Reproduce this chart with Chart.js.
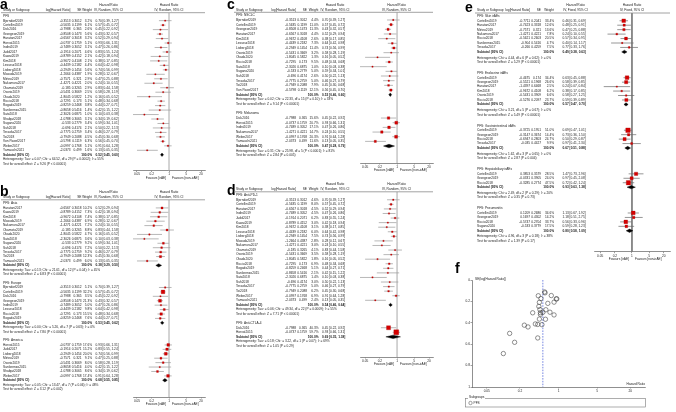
<!DOCTYPE html>
<html>
<head>
<meta charset="utf-8">
<script src="https://cdn.jsdelivr.net/npm/chart.js@4.4.1/dist/chart.umd.min.js"></script>
<style>
  html, body { margin: 0; padding: 0; background: #fff; }
  body { width: 676px; height: 412px; position: relative; overflow: hidden; }
  canvas { position: absolute; }
</style>
</head>
<body>
<script>
const FONT = '"Liberation Sans", Arial, sans-serif';
const FS = 3.2;
const TICKS = [0.05, 0.2, 1, 5, 20];

// ---- PFS study table (as printed in panel a) ----
const studyNames = ['Bjerndorf2019','Cortellini2019','Dick2016','Grangeon2019','Haratani2017','Horvat2015','Indini2019','Judd2017','Kawai2019','Kim2018','Lesueur2018','Lisberg2018','Masuda2019','Mirteo2019','Nakamura2017','Okamoto2019','Osorio2019','Okada2020','Riccio2018','Rogado2019','Sanlorenzo2015','Sato2018','Shafqat2018','Sugano2020','Suh2018','Teraoka2017','Toi2018','Von Pawel2017','Weber2017','Yamauchi2021'];
const logHR = [-0.3513,-0.5635,-0.7988,-0.8508,-0.6567,-0.0737,-0.7489,-0.1914,-0.8789,-0.9672,-0.4439,-0.2949,-1.2664,-0.7571,-1.4271,-0.185,-0.5431,-1.8045,-0.7295,-0.8259,-0.8658,-2.3026,-1.0788,-0.533,-0.696,-0.7775,-0.7949,-0.5798,-0.0997,-2.0373];
const seLogHR = [0.3012,0.1199,0.365,0.1473,0.3018,0.1759,0.3052,0.2071,0.4152,0.4108,0.2182,0.1454,0.4387,0.321,0.4221,0.3265,0.3669,0.5822,0.173,0.2468,0.5416,0.6875,0.3065,0.2779,0.4174,0.2759,0.2088,0.1119,0.1768,0.499];
const hrPoint = [0.70,0.57,0.45,0.43,0.52,0.93,0.47,0.83,0.42,0.38,0.64,0.74,0.28,0.47,0.24,0.83,0.58,0.16,0.48,0.44,0.42,0.10,0.34,0.59,0.50,0.46,0.45,0.56,0.91,0.13];
const hrLow = [0.39,0.45,0.22,0.32,0.29,0.66,0.26,0.55,0.18,0.17,0.42,0.56,0.12,0.25,0.10,0.44,0.28,0.05,0.34,0.27,0.15,0.03,0.19,0.34,0.22,0.27,0.30,0.45,0.64,0.05];
const hrHigh = [1.27,0.72,0.92,0.57,0.94,1.31,0.86,1.24,0.94,0.85,0.98,0.99,0.67,0.88,0.55,1.58,1.19,0.52,0.68,0.71,1.22,0.38,0.62,1.01,1.13,0.79,0.68,0.70,1.28,0.35];

// panel a: all studies
const allWeights = [3.2,6.1,2.6,5.6,3.2,5.1,3.1,4.6,2.1,2.1,4.4,5.6,1.9,2.9,2.0,2.9,2.5,1.2,5.1,3.8,1.4,1.0,3.1,3.4,2.1,3.4,4.5,6.3,5.1,1.6];
const allTotal = [0.52, 0.45, 0.60];

// panel b: by region
const asiaNames = ['Haratani2017','Kawai2019','Kim2018','Masuda2019','Nakamura2017','Okamoto2019','Okada2020','Sato2018','Sugano2020','Suh2018','Teraoka2017','Toi2018','Yamauchi2021'];
const asiaWeights = [10.2,7.3,7.4,6.9,7.2,8.8,4.7,3.6,9.2,7.2,9.2,12.3,6.0];
const asiaTotal = [0.38, 0.29, 0.50];
const europeNames = ['Bjerndorf2019','Cortellini2019','Dick2016','Grangeon2019','Indini2019','Lesueur2018','Riccio2018','Rogado2019'];
const europeWeights = [5.1,32.2,3.5,21.3,5.0,9.8,15.5,7.6];
const europeTotal = [0.53, 0.45, 0.62];
const americaNames = ['Horvat2015','Judd2017','Lisberg2018','Mirteo2019','Osorio2019','Sanlorenzo2015','Shafqat2018','Weber2017'];
const americaWeights = [17.6,15.2,20.0,9.1,8.0,4.0,8.6,17.4];
const americaTotal = [0.68, 0.55, 0.85];

// panel c: by tumour
const nsclcNames = ['Bjerndorf2019','Cortellini2019','Grangeon2019','Haratani2017','Kim2018','Lesueur2018','Lisberg2018','Osorio2019','Okada2020','Riccio2018','Sato2018','Sugano2020','Suh2018','Teraoka2017','Toi2018','Von Pawel2017'];
const nsclcWeights = [4.4,11.0,11.3,4.4,2.6,7.3,11.4,3.2,1.3,9.5,1.0,5.0,2.6,5.0,7.9,12.1];
const nsclcTotal = [0.53, 0.46, 0.60];
const melanomaNames = ['Dick2016','Horvat2015','Indini2019','Nakamura2017','Weber2017','Yamauchi2021'];
const melanomaWeights = [15.6,20.7,17.1,14.7,20.3,11.6];
const melanomaTotal = [0.47, 0.28, 0.79];

// panel d: by drug class
const pd1Names = ['Bjerndorf2019','Cortellini2019','Haratani2017','Indini2019','Judd2017','Kawai2019','Kim2018','Lesueur2018','Lisberg2018','Masuda2019','Nakamura2017','Okamoto2019','Osorio2019','Okada2020','Riccio2018','Rogado2019','Sanlorenzo2015','Sato2018','Suh2018','Teraoka2017','Toi2018','Weber2017','Yamauchi2021'];
const pd1Weights = [4.6,8.0,4.5,4.5,6.2,3.0,3.1,6.0,7.5,2.8,3.0,4.1,3.5,1.8,6.9,5.1,2.1,1.4,3.0,5.0,6.2,6.9,2.4];
const pd1Total = [0.54, 0.46, 0.64];
const ctla4Names = ['Dick2016','Horvat2015'];
const ctla4Weights = [40.3,59.7];
const ctla4Total = [0.69, 0.35, 1.38];

// panel e: by irAE type (own estimates)
const skinNames = ['Cortellini2019','Haratani2017','Mirteo2019','Nakamura2017','Riccio2018','Sanlorenzo2015','Teraoka2017'];
const skinLogHR = [-0.7711,-0.7423,-0.7571,-1.4271,-0.5621,-0.904,-0.266];
const skinSE = [0.2041,0.3318,0.321,0.4221,0.2603,0.5416,0.4259];
const skinWeights = [33.4,12.6,13.6,7.8,20.5,4.7,7.5];
const skinHR = [0.46,0.48,0.47,0.24,0.57,0.40,0.77];
const skinLow = [0.31,0.25,0.25,0.10,0.34,0.14,0.33];
const skinHigh = [0.69,0.91,0.88,0.55,0.95,1.17,1.76];
const skinTotal = [0.49, 0.38, 0.63];

const endoNames = ['Cortellini2019','Grangeon2019','Haratani2017','Kim2018','Osorio2019','Riccio2018'];
const endoLogHR = [-0.4675,-0.5521,-1.4397,-0.9672,-0.5431,-0.5276];
const endoSE = [0.174,0.1968,0.6468,0.4108,0.3909,0.2097];
const endoWeights = [34.4,26.6,2.5,6.2,6.6,23.7];
const endoHR = [0.63,0.58,0.24,0.38,0.58,0.59];
const endoLow = [0.45,0.39,0.07,0.17,0.27,0.39];
const endoHigh = [0.88,0.85,0.84,0.85,1.25,0.89];
const endoTotal = [0.57, 0.47, 0.70];

const giNames = ['Cortellini2019','Grangeon2019','Riccio2018','Teraoka2017'];
const giLogHR = [-0.3725,-0.3147,-0.6947,-0.035];
const giSE = [0.1951,0.3674,0.2803,0.4427];
const giWeights = [51.0,14.4,24.7,9.9];
const giHR = [0.69,0.73,0.50,0.97];
const giLow = [0.47,0.36,0.29,0.41];
const giHigh = [1.01,1.50,0.87,2.30];
const giTotal = [0.67, 0.51, 0.88];

const hepNames = ['Cortellini2019','Grangeon2019','Riccio2018'];
const hepLogHR = [0.3853,-0.0331,-0.3285];
const hepSE = [0.3579,0.3905,0.2774];
const hepWeights = [28.5,24.0,47.5];
const hepHR = [1.47,0.97,0.72];
const hepLow = [0.73,0.45,0.42];
const hepHigh = [2.96,2.08,1.24];
const hepTotal = [0.93, 0.63, 1.38];

const pneuNames = ['Cortellini2019','Grangeon2019','Riccio2018','Sugano2020'];
const pneuLogHR = [0.1209,0.1697,-0.5747,-0.533];
const pneuSE = [0.2686,0.4302,0.2704,0.3779];
const pneuWeights = [34.6,14.2,33.7,17.5];
const pneuHR = [1.13,1.18,0.56,0.59];
const pneuLow = [0.67,0.51,0.33,0.28];
const pneuHigh = [1.92,2.75,0.96,1.23];
const pneuTotal = [0.80, 0.58, 1.09];

function pick(names, weights) {
  return names.map((n, i) => {
    const j = studyNames.indexOf(n);
    return { name: n, lhr: logHR[j], se: seLogHR[j], w: weights[i], hr: hrPoint[j], lo: hrLow[j], hi: hrHigh[j] };
  });
}
function own(names, lhr, se, w, hr, lo, hi) {
  return names.map((n, i) => ({ name: n, lhr: lhr[i], se: se[i], w: w[i], hr: hr[i], lo: lo[i], hi: hi[i] }));
}
const ci = (a, b, c) => `${a.toFixed(2)} [${b.toFixed(2)}, ${c.toFixed(2)}]`;

const colsAB = { nameX: 3, logR: 70.5, seR: 81.5, wR: 92, ciX: 95.5, plotL: 133, plotR: 205, xMin: 0.0344, xMax: 29 };
const colsCD = { nameX: 236, logR: 296, seR: 307, wR: 318.5, ciX: 322, plotL: 360, plotR: 433, xMin: 0.031, xMax: 29 };

const panels = [
  Object.assign({ letter: 'a', letterX: 0, letterY: 8.5, left: 0, top: 0, w: 214, h: 184,
    h1: 5, h2: 10, lineY: 12.7, y0: 16.2, step: 4.47, axisY: 170.5, hetStep: 1, gap: 2, model: 'Random',
    groups: [
      { title: 'PFS', studies: pick(studyNames, allWeights), total: allTotal,
        het: 'Heterogeneity: Tau² = 0.07; Chi² = 64.52, df = 29 (P = 0.0002); I² = 55%',
        test: 'Test for overall effect: Z = 9.26 (P < 0.00001)' }
    ] }, colsAB),
  Object.assign({ letter: 'b', letterX: 0, letterY: 196, left: 0, top: 184, w: 214, h: 228,
    h1: 192, h2: 197, lineY: 199.8, y0: 203.5, step: 4.42, axisY: 397, hetStep: 1, gap: 2, model: 'Random',
    groups: [
      { title: 'PFS: Asia', studies: pick(asiaNames, asiaWeights), total: asiaTotal,
        het: 'Heterogeneity: Tau² = 0.13; Chi² = 21.61, df = 12 (P = 0.04); I² = 45%',
        test: 'Test for overall effect: Z = 6.83 (P < 0.00001)' },
      { title: 'PFS: Europe', studies: pick(europeNames, europeWeights), total: europeTotal,
        het: 'Heterogeneity: Tau² = 0.00; Chi² = 5.26, df = 7 (P = 0.63); I² = 0%',
        test: 'Test for overall effect: Z = 7.80 (P < 0.00001)' },
      { title: 'PFS: America', studies: pick(americaNames, americaWeights), total: americaTotal,
        het: 'Heterogeneity: Tau² = 0.05; Chi² = 13.47, df = 7 (P = 0.06); I² = 48%',
        test: 'Test for overall effect: Z = 3.12 (P = 0.002)' }
    ] }, colsAB),
  Object.assign({ letter: 'c', letterX: 227, letterY: 9, left: 225, top: 0, w: 222, h: 178,
    h1: 5, h2: 9.8, lineY: 12.3, y0: 15.3, step: 4.67, axisY: 163, hetStep: 1, gap: 2, model: 'Random',
    groups: [
      { title: 'PFS: NSCLC', studies: pick(nsclcNames, nsclcWeights), total: nsclcTotal,
        het: 'Heterogeneity: Tau² = 0.02; Chi² = 22.33, df = 15 (P = 0.10); I² = 33%',
        test: 'Test for overall effect: Z = 9.14 (P < 0.00001)' },
      { title: 'PFS: Melanoma', studies: pick(melanomaNames, melanomaWeights), total: melanomaTotal,
        het: 'Heterogeneity: Tau² = 0.31; Chi² = 25.98, df = 5 (P < 0.0001); I² = 81%',
        test: 'Test for overall effect: Z = 2.84 (P = 0.005)' }
    ] }, colsCD),
  Object.assign({ letter: 'd', letterX: 227, letterY: 195, left: 225, top: 178, w: 222, h: 234,
    h1: 184, h2: 188.7, lineY: 191.8, y0: 195.2, step: 4.57, axisY: 357, hetStep: 1, gap: 2, model: 'Random',
    groups: [
      { title: 'PFS: Anti-PD-1', studies: pick(pd1Names, pd1Weights), total: pd1Total,
        het: 'Heterogeneity: Tau² = 0.06; Chi² = 49.34, df = 22 (P = 0.0009); I² = 55%',
        test: 'Test for overall effect: Z = 7.71 (P < 0.00001)' },
      { title: 'PFS: Anti-CTLA-4', studies: pick(ctla4Names, ctla4Weights), total: ctla4Total,
        het: 'Heterogeneity: Tau² = 0.18; Chi² = 3.22, df = 1 (P = 0.07); I² = 69%',
        test: 'Test for overall effect: Z = 1.05 (P = 0.29)' }
    ] }, colsCD),
  { letter: 'e', letterX: 465, letterY: 12, left: 462, top: 0, w: 214, h: 266,
    nameX: 477, logR: 530, seR: 541, wR: 554, ciX: 562.5, plotL: 594, plotR: 670, xMin: 0.028, xMax: 36,
    h1: 5.5, h2: 10, lineY: 13, y0: 16.3, step: 4.45, axisY: 251.7, hetStep: 1.3, gap: 2.5, model: 'Fixed', dark: true,
    groups: [
      { title: 'PFS: Skin irAEs', studies: own(skinNames, skinLogHR, skinSE, skinWeights, skinHR, skinLow, skinHigh), total: skinTotal,
        het: 'Heterogeneity: Chi² = 4.44, df = 6 (P = 0.62); I² = 0%', test: 'Test for overall effect: Z = 5.29 (P < 0.00001)' },
      { title: 'PFS: Endocrine irAEs', studies: own(endoNames, endoLogHR, endoSE, endoWeights, endoHR, endoLow, endoHigh), total: endoTotal,
        het: 'Heterogeneity: Chi² = 3.21, df = 5 (P = 0.67); I² = 0%', test: 'Test for overall effect: Z = 5.49 (P < 0.00001)' },
      { title: 'PFS: Gastrointestinal irAEs', studies: own(giNames, giLogHR, giSE, giWeights, giHR, giLow, giHigh), total: giTotal,
        het: 'Heterogeneity: Chi² = 1.62, df = 3 (P = 0.65); I² = 0%', test: 'Test for overall effect: Z = 2.87 (P = 0.004)' },
      { title: 'PFS: Hepatobiliary irAEs', studies: own(hepNames, hepLogHR, hepSE, hepWeights, hepHR, hepLow, hepHigh), total: hepTotal,
        het: 'Heterogeneity: Chi² = 2.49, df = 2 (P = 0.29); I² = 20%', test: 'Test for overall effect: Z = 0.35 (P = 0.73)' },
      { title: 'PFS: Pneumonitis', studies: own(pneuNames, pneuLogHR, pneuSE, pneuWeights, pneuHR, pneuLow, pneuHigh), total: pneuTotal,
        het: 'Heterogeneity: Chi² = 4.96, df = 3 (P = 0.18); I² = 38%', test: 'Test for overall effect: Z = 1.39 (P = 0.17)' }
    ] }
];

function addCanvas(left, top, w, h) {
  const cv = document.createElement('canvas');
  cv.width = w; cv.height = h;
  cv.style.left = left + 'px'; cv.style.top = top + 'px';
  cv.style.width = w + 'px'; cv.style.height = h + 'px';
  document.body.appendChild(cv);
  return cv;
}

function logAxis(min, max) {
  return {
    type: 'logarithmic', position: 'bottom', min, max,
    afterBuildTicks: s => { s.ticks = TICKS.map(v => ({ value: v })); },
    afterFit: s => { s.height = 8; },
    ticks: { autoSkip: false, maxRotation: 0, padding: 0.5, color: '#222', font: { family: FONT, size: FS }, callback: v => String(v) },
    grid: { drawOnChartArea: false, drawTicks: true, tickLength: 1.5, color: '#444', lineWidth: 0.5 },
    border: { display: true, color: '#444', width: 0.6 }
  };
}

function drawForest(p) {
  const cv = addCanvas(p.left, p.top, p.w, p.h);

  // rows on a row-index scale
  const rows = [];
  let k = 0;
  p.groups.forEach(g => {
    rows.push({ k, kind: 'title', text: g.title });
    g.studies.forEach(s => { k += 1; rows.push({ k, kind: 'study', s }); });
    k += 1; rows.push({ k, kind: 'total', t: g.total });
    k += p.hetStep; rows.push({ k, kind: 'note', text: g.het });
    k += 1; rows.push({ k, kind: 'note', text: g.test });
    k += p.gap;
  });
  const studies = rows.filter(r => r.kind === 'study');
  const totals = rows.filter(r => r.kind === 'total');
  const yMin = (p.lineY - p.y0) / p.step;
  const yMax = (p.axisY - p.y0) / p.step;

  const ciSegs = [];
  studies.forEach(r => ciSegs.push({ x: r.s.lo, y: r.k }, { x: r.s.hi, y: r.k }, { x: 1, y: null }));

  const datasets = [
    { data: studies.map(r => ({ x: r.s.hr, y: r.k })), pointStyle: 'rect',
      pointRadius: studies.map(r => Math.max(0.9, 0.45 * Math.sqrt(r.s.w))),
      backgroundColor: '#d60000', borderColor: '#a80000', borderWidth: 0.3, showLine: false }
  ];
  totals.forEach(r => {
    const [hr, lo, hi] = r.t;
    datasets.push({ data: [{ x: lo, y: r.k }, { x: hr, y: r.k - 0.38 }, { x: hi, y: r.k }, { x: hr, y: r.k + 0.38 }, { x: lo, y: r.k }],
      showLine: true, fill: 'shape', backgroundColor: '#000', borderColor: '#000', borderWidth: 0.4, pointRadius: 0, tension: 0 });
  });
  datasets.push({ data: ciSegs, showLine: true, spanGaps: false, pointRadius: 0,
    borderColor: p.dark ? '#6a6a6a' : '#9a9a9a', borderWidth: 0.7 });
  datasets.push({ data: [{ x: 1, y: yMin }, { x: 1, y: yMax }], showLine: true, pointRadius: 0,
    borderColor: p.dark ? '#707070' : '#c9c9c9', borderWidth: p.dark ? 0.8 : 1.6 });

  const X = v => v - p.left, Y = v => v - p.top;
  const textPlugin = {
    id: 'forestText',
    afterDraw(chart) {
      const ctx = chart.ctx, ys = chart.scales.y, xs = chart.scales.x;
      ctx.save();
      ctx.fillStyle = '#000';
      ctx.font = `bold 14px ${FONT}`;
      ctx.textAlign = 'left'; ctx.textBaseline = 'alphabetic';
      ctx.fillText(p.letter, X(p.letterX), Y(p.letterY));

      ctx.fillStyle = '#222';
      ctx.textBaseline = 'middle';
      const put = (t, x, y, align, bold) => {
        ctx.font = `${bold ? 'bold ' : ''}${FS}px ${FONT}`;
        ctx.textAlign = align;
        ctx.fillText(t, X(x), y);
      };
      const ciC = p.ciX + 13, plotC = (p.plotL + p.plotR) / 2;
      put('Hazard Ratio', ciC, Y(p.h1), 'center');
      put('Hazard Ratio', plotC, Y(p.h1), 'center');
      put('Study or Subgroup', p.nameX, Y(p.h2), 'left');
      put('log[Hazard Ratio]', p.logR, Y(p.h2), 'right');
      put('SE', p.seR, Y(p.h2), 'right');
      put('Weight', p.wR, Y(p.h2), 'right');
      put(`IV, ${p.model}, 95% CI`, ciC, Y(p.h2), 'center');
      put(`IV, ${p.model}, 95% CI`, plotC, Y(p.h2), 'center');

      ctx.strokeStyle = '#8a8a8a'; ctx.lineWidth = 0.8;
      ctx.beginPath(); ctx.moveTo(X(p.nameX - 2), Y(p.lineY)); ctx.lineTo(X(p.plotR), Y(p.lineY)); ctx.stroke();

      rows.forEach(r => {
        const y = ys.getPixelForValue(r.k);
        if (r.kind === 'title' || r.kind === 'note') put(r.text, p.nameX, y, 'left');
        else if (r.kind === 'study') {
          const s = r.s;
          put(s.name, p.nameX, y, 'left');
          put(String(s.lhr), p.logR, y, 'right');
          put(String(s.se), p.seR, y, 'right');
          put(s.w.toFixed(1) + '%', p.wR, y, 'right');
          put(ci(s.hr, s.lo, s.hi), p.ciX, y, 'left');
        } else {
          put('Subtotal (95% CI)', p.nameX, y, 'left', true);
          put('100.0%', p.wR, y, 'right', true);
          put(ci(r.t[0], r.t[1], r.t[2]), p.ciX, y, 'left', true);
        }
      });

      const x1 = xs.getPixelForValue(1) + p.left;
      const fy = Y(p.axisY + 7.5);
      put('Favours [irAE]', x1 - 3, fy, 'right');
      put('Favours [non-irAE]', x1 + 3, fy, 'left');
      ctx.restore();
    }
  };

  new Chart(cv, {
    type: 'scatter',
    data: { datasets },
    options: {
      responsive: false, animation: false, events: [],
      layout: { padding: { left: p.plotL - p.left, right: p.left + p.w - p.plotR, top: p.lineY - p.top, bottom: p.top + p.h - p.axisY - 8 } },
      plugins: { legend: { display: false }, tooltip: { enabled: false } },
      scales: {
        x: logAxis(p.xMin, p.xMax),
        y: { type: 'linear', reverse: true, min: yMin, max: yMax, display: false }
      }
    },
    plugins: [textPlugin]
  });
}

panels.forEach(drawForest);

// ---- funnel plot (f) ----
const funnelTicksY = [0, 0.2, 0.4, 0.6, 0.8, 1];
const pooledHR = allTotal[0];
(function drawFunnel() {
  const L = 440, T = 262, W = 236, H = 150;
  const cv = addCanvas(L, T, W, H);
  const X = v => v - L, Y = v => v - T;
  const textPlugin = {
    id: 'funnelText',
    afterDraw(chart) {
      const ctx = chart.ctx;
      ctx.save();
      ctx.fillStyle = '#000';
      ctx.font = `bold 14px ${FONT}`; ctx.textAlign = 'left'; ctx.textBaseline = 'alphabetic';
      ctx.fillText('f', X(455), Y(273));
      ctx.fillStyle = '#222'; ctx.textBaseline = 'middle';
      ctx.font = `${FS}px ${FONT}`;
      ctx.fillText('SE(log[Hazard Ratio])', X(475), Y(279.5));
      ctx.textAlign = 'right';
      ctx.fillText('Hazard Ratio', X(645), Y(384));
      // legend box
      ctx.strokeStyle = '#777'; ctx.lineWidth = 0.6;
      ctx.strokeRect(X(465.5), Y(398.5), 180, 8.5);
      ctx.fillStyle = '#fff';
      ctx.fillRect(X(468), Y(395.5), 17, 4.5);
      ctx.fillStyle = '#222'; ctx.textAlign = 'left';
      ctx.fillText('Subgroups', X(469), Y(397.5));
      ctx.beginPath(); ctx.strokeStyle = '#444'; ctx.lineWidth = 0.5;
      ctx.arc(X(470.5), Y(403), 1.7, 0, Math.PI * 2); ctx.stroke();
      ctx.fillText('PFS', X(473.5), Y(403));
      ctx.restore();
    }
  };
  new Chart(cv, {
    type: 'scatter',
    data: {
      datasets: [
        { data: studyNames.map((n, i) => ({ x: hrPoint[i], y: seLogHR[i] })), pointStyle: 'circle', pointRadius: 2.2,
          backgroundColor: 'rgba(0,0,0,0)', borderColor: '#444', borderWidth: 0.6 },
        { data: [{ x: pooledHR, y: 0 }, { x: pooledHR, y: 1 }], showLine: true, pointRadius: 0,
          borderColor: '#3d55d6', borderWidth: 0.7, borderDash: [1.6, 1.2] }
      ]
    },
    options: {
      responsive: false, animation: false, events: [],
      layout: { padding: { left: 22, right: W - (645 - L), top: 280 - T, bottom: T + H - 387 - 8 } },
      plugins: { legend: { display: false }, tooltip: { enabled: false } },
      scales: {
        x: logAxis(0.027, 37),
        y: {
          type: 'linear', reverse: true, min: 0, max: 1,
          afterBuildTicks: s => { s.ticks = funnelTicksY.map(v => ({ value: v })); },
          afterFit: s => { s.width = 10; },
          ticks: { padding: 0.5, color: '#222', font: { family: FONT, size: FS }, callback: v => String(Math.round(v * 10) / 10) },
          grid: { drawOnChartArea: false, drawTicks: true, tickLength: 1.5, color: '#444', lineWidth: 0.5 },
          border: { display: true, color: '#444', width: 0.6 }
        }
      }
    },
    plugins: [textPlugin]
  });
})();
</script>
</body>
</html>
